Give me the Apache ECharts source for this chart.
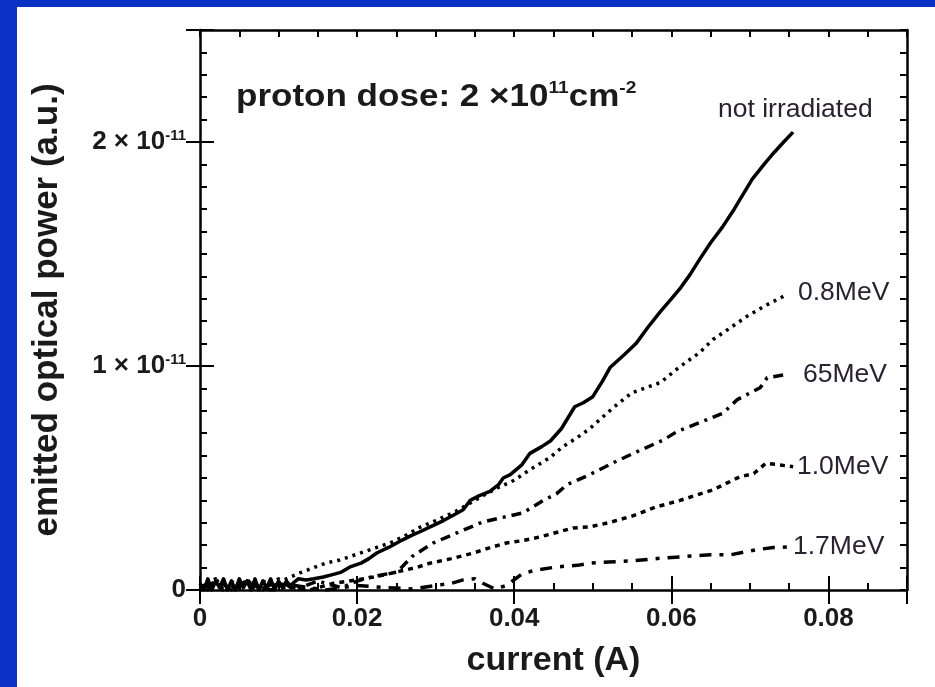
<!DOCTYPE html>
<html>
<head>
<meta charset="utf-8">
<script src="https://cdn.jsdelivr.net/npm/echarts@6/dist/echarts.min.js"></script>
<style>
html,body{margin:0;padding:0;background:#fff;}
#chart{width:935px;height:687px;}
</style>
</head>
<body>
<div id="chart"></div>
<script>
// ---- data: x = current (A), y = emitted optical power in units of 1e-11 (a.u.) ----
const notIrradiated = [[0,0.03],[0.0005,0.0],[0.001,0.05],[0.0015,0.0],[0.002,0.04],[0.0025,0.01],[0.003,0.05],[0.0035,0.0],[0.004,0.04],[0.0045,0.0],[0.005,0.05],[0.0055,0.01],[0.006,0.04],[0.0065,0.0],[0.007,0.05],[0.0075,0.0],[0.008,0.04],[0.0085,0.01],[0.009,0.05],[0.0095,0.0],[0.010,0.04],[0.0105,0.01],[0.011,0.04],[0.0115,0.02],[0.0125,0.05],[0.0135,0.045],[0.0145,0.05],[0.0157,0.058],[0.017,0.07],[0.018,0.08],[0.0191,0.103],[0.0205,0.12],[0.0215,0.14],[0.0225,0.165],[0.024,0.19],[0.0258,0.224],[0.027,0.245],[0.028,0.26],[0.0293,0.282],[0.031,0.31],[0.0323,0.335],[0.0335,0.358],[0.0344,0.40],[0.0355,0.42],[0.0369,0.44],[0.038,0.47],[0.0386,0.50],[0.0395,0.515],[0.041,0.56],[0.042,0.61],[0.0435,0.64],[0.0446,0.665],[0.046,0.72],[0.0477,0.818],[0.0488,0.836],[0.050,0.863],[0.0512,0.93],[0.0522,0.993],[0.054,1.05],[0.0555,1.10],[0.057,1.172],[0.0586,1.243],[0.060,1.30],[0.0612,1.35],[0.0624,1.409],[0.0636,1.476],[0.065,1.55],[0.0665,1.62],[0.068,1.70],[0.0703,1.834],[0.0718,1.90],[0.073,1.95],[0.0743,2.0],[0.0755,2.044]];
const mev08 = [[0,0.02],[0.001,0.0],[0.002,0.05],[0.003,0.0],[0.004,0.04],[0.005,0.01],[0.006,0.05],[0.007,0.0],[0.008,0.04],[0.0093,0.022],[0.011,0.05],[0.0127,0.076],[0.0145,0.10],[0.016,0.12],[0.0178,0.134],[0.02,0.16],[0.0225,0.19],[0.0242,0.21],[0.026,0.24],[0.028,0.28],[0.03,0.31],[0.0325,0.35],[0.035,0.40],[0.0375,0.45],[0.04,0.49],[0.042,0.537],[0.0445,0.59],[0.0462,0.64],[0.048,0.68],[0.0496,0.72],[0.0526,0.814],[0.055,0.881],[0.0586,0.926],[0.0611,0.997],[0.0636,1.06],[0.0653,1.118],[0.0675,1.17],[0.0696,1.221],[0.072,1.27],[0.0747,1.319]];
const mev65 = [[0,0.01],[0.002,0.05],[0.004,0.0],[0.006,0.04],[0.008,0.0],[0.010,0.05],[0.012,0.0],[0.015,0.04],[0.018,0.01],[0.02,0.04],[0.022,0.06],[0.0251,0.08],[0.027,0.15],[0.0297,0.21],[0.0327,0.255],[0.036,0.304],[0.038,0.32],[0.0411,0.344],[0.0437,0.40],[0.0454,0.43],[0.0467,0.47],[0.0496,0.515],[0.0526,0.568],[0.0556,0.617],[0.059,0.67],[0.0607,0.707],[0.0636,0.747],[0.0666,0.79],[0.0684,0.85],[0.0713,0.903],[0.0722,0.948],[0.0747,0.962]];
const mev10 = [[0,0.0],[0.002,0.03],[0.004,0.0],[0.006,0.04],[0.008,0.0],[0.010,0.03],[0.012,0.01],[0.014,0.0],[0.017,0.03],[0.02,0.045],[0.0225,0.06],[0.025,0.08],[0.0275,0.10],[0.0293,0.12],[0.032,0.14],[0.0348,0.165],[0.037,0.19],[0.039,0.21],[0.041,0.22],[0.0433,0.237],[0.0475,0.277],[0.0496,0.282],[0.052,0.30],[0.055,0.33],[0.058,0.37],[0.0611,0.40],[0.0653,0.447],[0.0687,0.505],[0.0705,0.52],[0.072,0.565],[0.0735,0.56],[0.0755,0.55]];
const mev17 = [[0,0.02],[0.003,0.0],[0.006,0.03],[0.009,0.0],[0.012,0.02],[0.016,0.0],[0.02,0.02],[0.024,0.01],[0.027,0.005],[0.03,0.02],[0.032,0.03],[0.0335,0.045],[0.035,0.05],[0.036,0.03],[0.0375,0.005],[0.039,0.02],[0.0411,0.075],[0.043,0.09],[0.0454,0.103],[0.048,0.11],[0.0496,0.12],[0.052,0.125],[0.055,0.13],[0.058,0.14],[0.0611,0.148],[0.065,0.157],[0.0675,0.157],[0.0709,0.18],[0.073,0.19],[0.0751,0.192]];

const seriesNames = ['not irradiated','0.8MeV','65MeV','1.0MeV','1.7MeV'];
const xTickLabels = ['0','0.02','0.04','0.06','0.08'];
const yTickLabels = ['0','1','2'];   // mantissas of the 10^-11 labels

const FONT = "'Liberation Sans', Arial, Helvetica, sans-serif";
const INK = '#1a1a1a';

const chart = echarts.init(document.getElementById('chart'), null, {renderer:'canvas'});

const gridRect = {left:200, top:30, width:707, height:560};

function xMinorAxis(pos, showLabel){
  return {
    type:'value', gridIndex:0, position:pos, min:0, max:0.09, interval:0.005,
    axisLine:{show:true, onZero:false, lineStyle:{color:'#000', width:2.5}},
    axisTick:{show:true, inside:true, length:7, lineStyle:{color:'#000', width:2}},
    splitLine:{show:false},
    axisLabel:{
      show:showLabel, margin:16, color:INK, fontSize:26, fontWeight:'bold', fontFamily:FONT,
      showMaxLabel:false,
      formatter:function(v){
        const k = v/0.02;
        if (Math.abs(k-Math.round(k))<1e-6) { return xTickLabels[Math.round(k)] || ''; }
        return '';
      }
    },
    name: showLabel ? 'current (A)' : '',
    nameLocation:'middle', nameGap:54,
    nameTextStyle:{color:INK, fontSize:34, fontWeight:'bold', fontFamily:FONT}
  };
}
function xMajorAxis(pos){
  return {
    type:'value', gridIndex:1, position:pos, min:0, max:0.09, interval:0.02,
    axisLine:{show:false}, splitLine:{show:false}, axisLabel:{show:false},
    axisTick:{show:true, inside:true, length:14, lineStyle:{color:'#000', width:2}}
  };
}
function yMinorAxis(pos, showLabel){
  return {
    type:'value', gridIndex:0, position:pos, min:0, max:2.5, interval:0.1,
    axisLine:{show:true, onZero:false, lineStyle:{color:'#000', width:2.5}},
    axisTick:{show:true, inside:true, length:7, lineStyle:{color:'#000', width:2}},
    splitLine:{show:false},
    axisLabel:{
      show:showLabel, margin:14, showMaxLabel:false,
      formatter:function(v){
        if (Math.abs(v-Math.round(v))<1e-6) {
          const m = yTickLabels[Math.round(v)];
          if (m === undefined) return '';
          if (m === '0') return '{b|0}';
          return '{b|' + m + ' × 10}{s|-11}';
        }
        return '';
      },
      rich:{
        b:{fontSize:26, fontWeight:'bold', color:INK, fontFamily:FONT, lineHeight:28},
        s:{fontSize:15, fontWeight:'bold', color:INK, fontFamily:FONT, lineHeight:15, verticalAlign:'top'}
      }
    },
    name: showLabel ? 'emitted optical power (a.u.)' : '',
    nameLocation:'middle', nameGap:135, nameRotate:90,
    nameTextStyle:{color:INK, fontSize:35, fontWeight:'bold', fontFamily:FONT}
  };
}
function yMajorAxis(pos){
  return {
    type:'value', gridIndex:1, position:pos, min:0, max:2.5, interval:1,
    axisLine:{show:false}, splitLine:{show:false}, axisLabel:{show:false},
    axisTick:{show:true, inside:true, length:14, lineStyle:{color:'#000', width:2}}
  };
}

function lineSeries(name, data, dash, width){
  return {
    name:name, type:'line', xAxisIndex:0, yAxisIndex:0, data:data,
    showSymbol:false, symbol:'none', smooth:false, animation:false,
    lineStyle:{color:'#000', width:width, type:dash, cap:'butt', join:'round'},
    z:3
  };
}

function seriesLabel(text, x, y){
  return {type:'text', x:x, y:y, z:10, scaleX:1.06, style:{text:text, fontSize:25, fontFamily:FONT, fill:'#2a2230', verticalAlign:'middle'}};
}

const option = {
  backgroundColor:'#0a32c4',
  animation:false,
  grid:[Object.assign({}, gridRect, {show:false}), Object.assign({}, gridRect, {show:false})],
  xAxis:[xMinorAxis('bottom', true), xMinorAxis('top', false), xMajorAxis('bottom'), xMajorAxis('top')],
  yAxis:[yMinorAxis('left', true), yMinorAxis('right', false), yMajorAxis('left'), yMajorAxis('right')],
  series:[
    lineSeries(seriesNames[0], notIrradiated, 'solid', 3.5),
    lineSeries(seriesNames[1], mev08, [3,5], 3.5),
    lineSeries(seriesNames[2], mev65, [10,6,3,6], 3.5),
    lineSeries(seriesNames[3], mev10, [5,5], 3.5),
    lineSeries(seriesNames[4], mev17, [12,8,4,8], 3.5)
  ],
  graphic:{elements:[
    {type:'rect', z:-100, silent:true, shape:{x:17, y:7, width:935-17, height:687-7}, style:{fill:'#ffffff'}},
    {type:'text', x:236, y:97, z:10, scaleX:1.13, style:{
      text:'{a|proton dose: 2 ×10}{s|11}{a|cm}{s|-2}',
      verticalAlign:'middle',
      rich:{
        a:{fontSize:31, fontWeight:'bold', fill:INK, fontFamily:FONT, lineHeight:34},
        s:{fontSize:17, fontWeight:'bold', fill:INK, fontFamily:FONT, lineHeight:17, verticalAlign:'top'}
      }
    }},
    seriesLabel(seriesNames[0], 718, 110),
    seriesLabel(seriesNames[1], 798, 293),
    seriesLabel(seriesNames[2], 803, 375),
    seriesLabel(seriesNames[3], 797, 467),
    seriesLabel(seriesNames[4], 793, 547)
  ]}
};
chart.setOption(option);
</script>
</body>
</html>
